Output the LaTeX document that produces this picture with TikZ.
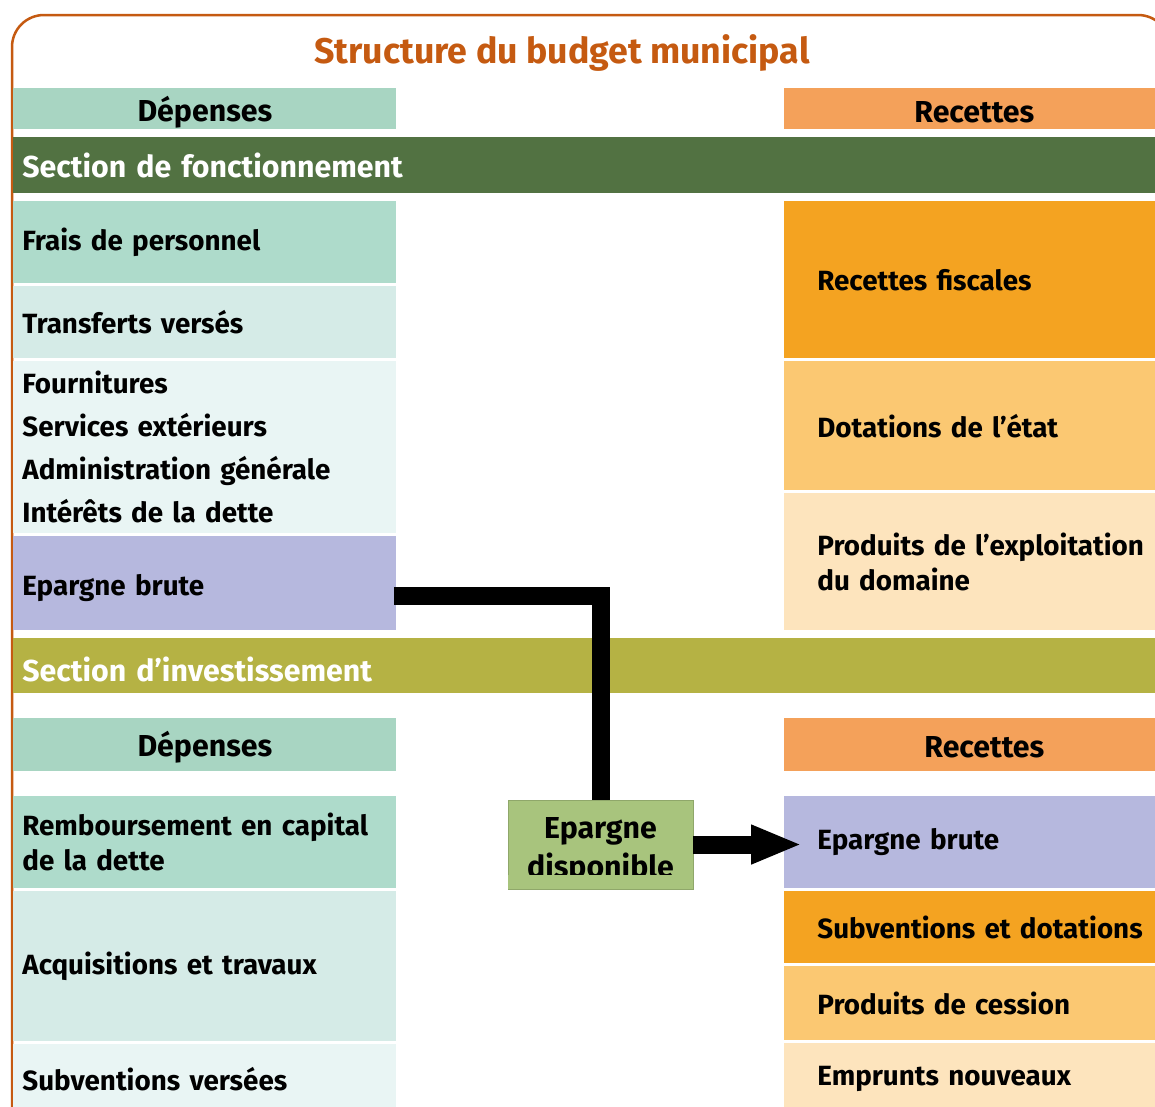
\documentclass[tikz,border=0pt]{standalone}
\usepackage{fontspec}
\setmainfont{Fira Sans}
\usetikzlibrary{arrows.meta}

\definecolor{framecol}{HTML}{C55A11}
\definecolor{dephead}{HTML}{A8D5C2}
\definecolor{rechead}{HTML}{F4A15A}
\definecolor{fonctcol}{HTML}{527242}
\definecolor{investcol}{HTML}{B5B244}
\definecolor{depA}{HTML}{AEDBCB}
\definecolor{depB}{HTML}{D5EBE7}
\definecolor{depC}{HTML}{E9F5F4}
\definecolor{epcol}{HTML}{B6B8DE}
\definecolor{recA}{HTML}{F4A321}
\definecolor{recB}{HTML}{FBC872}
\definecolor{recC}{HTML}{FDE4BD}
\definecolor{dispocol}{HTML}{A8C47D}

\newcommand{\cellfont}{\fontsize{27.8}{35}\selectfont\bfseries}
\newcommand{\headfont}{\fontsize{30.3}{38}\selectfont\bfseries}
\newcommand{\titlefont}{\fontsize{35.7}{44}\selectfont\bfseries}
\newcommand{\lowertext}[2]{\raisebox{-#1}[\height][\depth]{#2}}

\tikzset{every picture/.style={line width=0.75pt}}
\tikzset{
  cellL/.style={anchor=north west, inner xsep=9pt, inner ysep=0pt, minimum width=383pt, text width=365pt, align=left, font=\cellfont},
  cellR/.style={anchor=north west, inner xsep=33pt, inner ysep=0pt, minimum width=400pt, text width=334pt, align=left, font=\cellfont},
  head/.style={anchor=north west, inner sep=0pt, align=center, font=\headfont},
  band/.style={anchor=north west, inner xsep=9pt, inner ysep=0pt, minimum width=1160pt, text width=1142pt, align=left, font=\headfont, text=white},
  link/.style={line width=18pt, draw=black},
}

\begin{document}
\begin{tikzpicture}[x=1pt,y=1pt,yscale=-1]
\useasboundingbox (0,0) rectangle (1155,1106);
%Shape: Rounded Rect frame
\draw [framecol, line width=2.5pt, rounded corners=32pt] (12,15) rectangle (1170,1150);
% Title
\node [text=framecol, font=\titlefont] (title) at (562,53) {Structure du budget municipal};

% Headers
\node [head, fill=dephead, minimum width=383pt, minimum height=41pt] (depH1) at (13,88) {\lowertext{3pt}{Dépenses}};
\node [head, fill=rechead, minimum width=380pt, minimum height=41pt] (recH1) at (784,88) {\lowertext{3pt}{Recettes}};
% Section de fonctionnement
\node [band, fill=fonctcol, minimum height=56pt] (fonct) at (13,137) {Section de fonctionnement};
%Left cells
\node [cellL, fill=depA, minimum height=82pt] (frais) at (13,201) {Frais de personnel};
\node [cellL, fill=depB, minimum height=72pt] (transf) at (13,286) {Transferts versés};
\node [cellL, fill=depC, minimum height=172pt] (fourn) at (13,361) {Fournitures\\[8pt] Services extérieurs\\[8pt] Administration générale\\[8pt] Intérêts de la dette};
\node [cellL, fill=epcol, minimum height=94pt] (epbL) at (13,536) {\lowertext{5pt}{Epargne brute}};
%Right cells
\node [cellR, fill=recA, minimum height=157pt] (fiscal) at (784,201) {Recettes fiscales};
\node [cellR, fill=recB, minimum height=129pt] (dotat) at (784,361) {Dotations de l’état};
\node [cellR, fill=recC, minimum height=137pt] (domaine) at (784,493) {Produits de l’exploitation\\ du domaine};

% Section d'investissement
\node [band, fill=investcol, minimum height=55pt] (invest) at (13,638) {\lowertext{4pt}{Section d’investissement}};
\node [head, fill=dephead, minimum width=383pt, minimum height=53pt] (depH2) at (13,718) {\lowertext{2pt}{Dépenses}};
\node [head, fill=rechead, minimum width=400pt, minimum height=53pt] (recH2) at (784,718) {\lowertext{2pt}{Recettes}};
%Left cells
\node [cellL, fill=depA, minimum height=92pt] (remb) at (13,796) {Remboursement en capital\\ de la dette};
\node [cellL, fill=depB, minimum height=150pt] (acqu) at (13,891) {Acquisitions et travaux};
\node [cellL, fill=depC, minimum height=70pt] (subvV) at (13,1044) {Subventions versées};
%Right cells
\node [cellR, fill=epcol, minimum height=92pt] (epbR) at (784,796) {Epargne brute};
\node [cellR, fill=recA, minimum height=72pt] (subvD) at (784,891) {Subventions et dotations};
\node [cellR, fill=recB, minimum height=74pt] (cession) at (784,966) {Produits de cession};
\node [cellR, fill=recC, minimum height=72pt] (emprunt) at (784,1043) {Emprunts nouveaux};

% Epargne disponible
\node [fill=dispocol, draw=dispocol!85!black, line width=0.5pt, minimum width=185pt, minimum height=89pt, inner sep=0pt, align=center, font=\headfont] (dispo) at (600.5,844.5) {\lowertext{6pt}{Epargne}\\[1pt] \lowertext{6pt}{disponible}};
\fill [dispocol] ([xshift=0.5pt,yshift=-0.5pt]dispo.south west) rectangle ([xshift=-0.5pt,yshift=-14pt]dispo.south east);

%Connectors
\draw [link] ([xshift=-3pt,yshift=13pt]epbL.east) -| (dispo.north);
\draw [link, -{Triangle[length=51pt,width=36pt]}] (dispo.east) -- ([xshift=18pt]dispo.east -| epbR.west);
\end{tikzpicture}
\end{document}
